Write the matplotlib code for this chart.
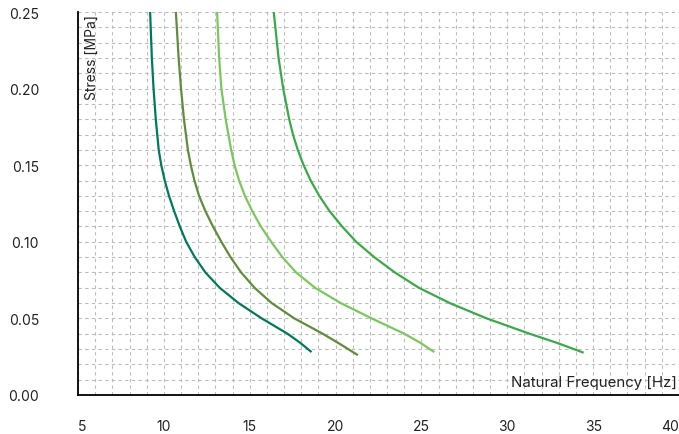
import numpy as np
import matplotlib.pyplot as plt
from matplotlib.ticker import MultipleLocator

plt.rcParams['font.family'] = ['Inter', 'DejaVu Sans']

# curva 1 (verde escuro)
s1 = [0.25, 0.22, 0.20, 0.18, 0.16, 0.15, 0.14, 0.13, 0.12, 0.11, 0.10, 0.09, 0.08, 0.07, 0.06, 0.05, 0.04, 0.034, 0.028]
f1 = [9.2, 9.3, 9.4, 9.53, 9.7, 9.85, 10.05, 10.3, 10.6, 10.93, 11.3, 11.8, 12.42, 13.25, 14.35, 15.7, 17.2, 17.95, 18.6]
# curva 2 (oliva)
s2 = [0.25, 0.22, 0.20, 0.18, 0.16, 0.15, 0.14, 0.13, 0.12, 0.11, 0.10, 0.09, 0.08, 0.07, 0.06, 0.05, 0.04, 0.033, 0.026]
f2 = [10.7, 10.86, 11.0, 11.17, 11.4, 11.57, 11.78, 12.05, 12.42, 12.86, 13.35, 13.88, 14.5, 15.28, 16.28, 17.6, 19.25, 20.3, 21.3]
# curva 3 (verde claro)
s3 = [0.25, 0.22, 0.20, 0.18, 0.16, 0.15, 0.14, 0.13, 0.12, 0.11, 0.10, 0.09, 0.08, 0.07, 0.06, 0.05, 0.04, 0.034, 0.028]
f3 = [13.1, 13.22, 13.35, 13.6, 13.92, 14.12, 14.38, 14.72, 15.15, 15.65, 16.25, 16.9, 17.7, 18.8, 20.3, 22.1, 24.0, 24.95, 25.75]
# curva 4 (verde medio)
s4 = [0.25, 0.22, 0.20, 0.18, 0.17, 0.16, 0.15, 0.14, 0.13, 0.12, 0.11, 0.10, 0.09, 0.08, 0.07, 0.06, 0.05, 0.04, 0.034, 0.0276]
f4 = [16.4, 16.68, 16.95, 17.3, 17.52, 17.8, 18.14, 18.55, 19.05, 19.65, 20.38, 21.2, 22.25, 23.45, 24.85, 26.65, 28.8, 31.3, 32.9, 34.45]

curvas = [(f1, s1, '#007a5a'), (f2, s2, '#5f8d3a'), (f3, s3, '#7ac85c'), (f4, s4, '#3aaa48')]

x_ticks = [5, 10, 15, 20, 25, 30, 35, 40]
y_ticks = [0.0, 0.05, 0.10, 0.15, 0.20, 0.25]

fig = plt.figure(figsize=(6.79, 4.35), dpi=100)
ax = fig.add_axes([78/679, 39/435, 601/679, 383/435])

for f, s, c in curvas:
    ax.plot(f, s, c=c, lw=1.6, solid_capstyle='butt', solid_joinstyle='round')

ax.set_xlim(5, 40)
ax.set_ylim(0, 0.25)
ax.set_xticks(x_ticks, [str(v) for v in x_ticks])
ax.set_yticks(y_ticks, [f'{v:.2f}' for v in y_ticks])
ax.xaxis.set_minor_locator(MultipleLocator(1))
ax.yaxis.set_minor_locator(MultipleLocator(0.01))

ax.grid(which='both', color='#bcbcbc', ls=(0, (3, 3)), lw=0.8)
ax.set_axisbelow(True)
ax.tick_params(which='both', length=0)
ax.tick_params(axis='x', pad=17, labelsize=10, colors='#222222')
ax.tick_params(axis='y', pad=28, labelsize=10, colors='#222222')

xl = ax.get_xticklabels()
xl[0].set_horizontalalignment('left')
xl[-1].set_horizontalalignment('right')

ax.spines['top'].set_visible(False)
ax.spines['right'].set_visible(False)
ax.spines['left'].set_linewidth(1.3)
ax.spines['bottom'].set_linewidth(1.3)

ax.text(0.012, 0.995, 'Stress [MPa]', transform=ax.transAxes, rotation=90,
        ha='left', va='top', fontsize=10, color='#222222')
ax.text(0.996, 0.035, 'Natural Frequency [Hz]', transform=ax.transAxes,
        ha='right', va='center', fontsize=10.8, color='#222222')

plt.savefig('out.png', dpi=100)
